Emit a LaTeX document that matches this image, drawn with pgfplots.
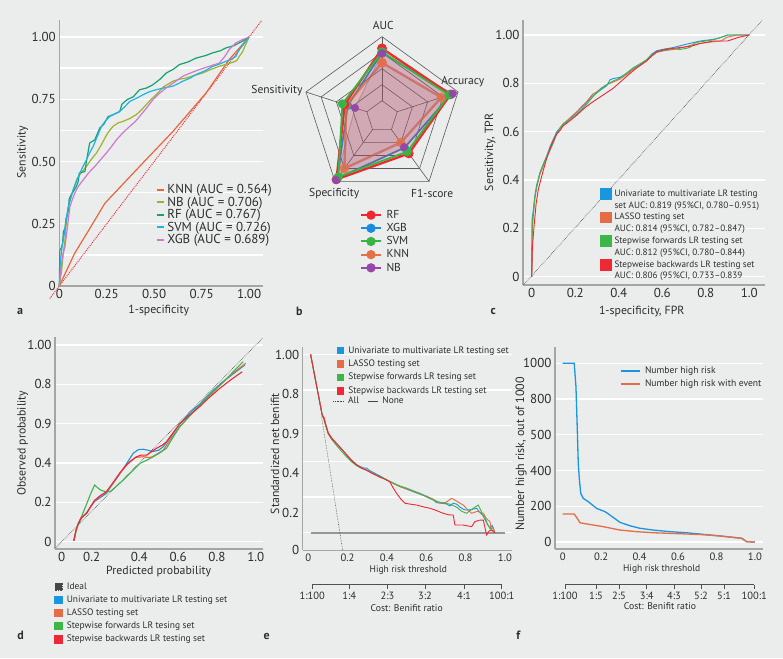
\documentclass[border=0pt]{standalone}
\usepackage{fontspec}
\setmainfont{PT Sans}
\usepackage{pgfplots}
\usepackage{pgfplotstable}
\pgfplotsset{compat=1.18}

\definecolor{bg}{RGB}{235,236,236}
\definecolor{axgray}{RGB}{165,165,165}
\definecolor{txt}{RGB}{45,45,45}
\definecolor{seccol}{RGB}{80,80,80}
\definecolor{ringgray}{RGB}{90,90,90}
% ROC of the five classifiers
\definecolor{cKNN}{RGB}{232,102,62}
\definecolor{cNB}{RGB}{160,178,40}
\definecolor{cRF}{RGB}{22,162,112}
\definecolor{cSVM}{RGB}{30,178,230}
\definecolor{cXGB}{RGB}{204,122,206}
\definecolor{cDiag}{RGB}{240,60,70}
% radar
\definecolor{rRF}{RGB}{240,40,45}
\definecolor{rXGB}{RGB}{25,140,220}
\definecolor{rSVM}{RGB}{55,180,65}
\definecolor{rKNN}{RGB}{228,112,72}
\definecolor{rNB}{RGB}{150,72,170}
% LR models
\definecolor{mUni}{RGB}{25,150,222}
\definecolor{mLasso}{RGB}{228,108,70}
\definecolor{mFwd}{RGB}{60,182,72}
\definecolor{mBwd}{RGB}{238,40,52}
\definecolor{ideal}{RGB}{70,70,70}
\definecolor{nonegray}{RGB}{150,150,150}

\newcommand{\fs}[1]{\fontsize{#1}{#1}\selectfont}

\pgfplotsset{
  panel/.style={
    scale only axis, anchor=south west, clip=false,
    axis x line*=bottom, axis y line*=left,
    axis line style={axgray, line width=1.3pt, -},
    every outer x axis line/.append style={-},
    every outer y axis line/.append style={-},
    major tick length=0pt, minor tick length=0pt,
    major grid style={white, line width=1.3pt},
    minor grid style={white, line width=1.3pt},
    tick label style={font=\fs{13}, text=txt},
    /pgf/number format/assume math mode=true,
    legend cell align=left,
  },
  costaxis/.style={
    scale only axis, anchor=south west, height=10pt,
    ymin=0, ymax=1, axis x line*=bottom, axis y line=none,
    axis line style={seccol, line width=0.7pt, -},
    every outer x axis line/.append style={-},
    tick align=outside, major tick length=4.3pt,
    tick style={seccol, line width=0.7pt},
    xticklabel style={font=\fs{10.5}, text=txt},
  },
}

% web outline: spoke angles and unit radius
\pgfplotstableread{
a r
90 1
18 1
-54 1
-126 1
162 1
90 1
}\pentagon

% radar values: AUC, Accuracy, F1-score, Specificity, Sensitivity (scaled radius)
\pgfplotstableread{
a r
90 0.854
18 0.90
-54 0.57
-126 0.97
162 0.49
90 0.854
}\radarRF
\pgfplotstableread{
a r
90 0.80
18 0.91
-54 0.48
-126 0.95
162 0.45
90 0.80
}\radarXGB
\pgfplotstableread{
a r
90 0.81
18 0.88
-54 0.54
-126 0.93
162 0.52
90 0.81
}\radarSVM
\pgfplotstableread{
a r
90 0.675
18 0.78
-54 0.40
-126 0.80
162 0.47
90 0.675
}\radarKNN
\pgfplotstableread{
a r
90 0.79
18 0.93
-54 0.47
-126 0.98
162 0.355
90 0.79
}\radarNB

\begin{document}
\begin{tikzpicture}[x=1pt,y=1pt]
\fill[bg] (0,0) rectangle (783,658);
\useasboundingbox (0,0) rectangle (783,658);

%% ---------------- a: ROC of the classifiers ----------------
\begin{axis}[panel, at={(59.3pt,372pt)}, width=203.7pt, height=266pt,
  xmin=0, xmax=1.073, ymin=0, ymax=1.068,
  xtick={0,0.25,0.5,0.75,1}, xticklabels={0,0.25,0.50,0.75,1.00},
  ytick={0,0.25,0.5,0.75,1}, yticklabels={0,0.25,0.50,0.75,1.00},
  minor ytick={0.125,0.375,0.625,0.875},
  ymajorgrids, yminorgrids,
  legend style={at={(0.475,0.39)}, anchor=north west, draw=none, fill=none,
    inner sep=0pt, outer sep=0pt, font=\fs{13}, text=txt, row sep=-2.2pt},
  legend image code/.code={\draw[#1, line width=1.8pt] (0pt,0pt) -- (7.5pt,0pt);},
]
\addplot[cDiag, densely dotted, line width=1pt, forget plot] coordinates {(-0.05,-0.05) (1.065,1.065)};
\addplot[cKNN, line width=1.2pt] coordinates {
(0,0) (0.08,0.13) (0.16,0.23) (0.24,0.332) (0.423,0.48) (0.598,0.62) (0.773,0.775) (0.895,0.909) (1,1)};
\addplot[cNB, line width=1.2pt] coordinates {
(0,0) (0.012,0.06) (0.021,0.131) (0.03,0.185) (0.035,0.239) (0.045,0.3) (0.056,0.346) (0.075,0.39)
(0.091,0.426) (0.115,0.455) (0.143,0.48) (0.17,0.51) (0.196,0.534) (0.22,0.565) (0.24,0.594)
(0.26,0.62) (0.283,0.641) (0.31,0.655) (0.336,0.661) (0.37,0.672) (0.406,0.688) (0.43,0.705)
(0.458,0.728) (0.485,0.75) (0.51,0.768) (0.55,0.8) (0.598,0.822) (0.63,0.83) (0.668,0.835)
(0.71,0.845) (0.755,0.855) (0.8,0.87) (0.843,0.882) (0.88,0.89) (0.913,0.898) (0.935,0.905)
(0.948,0.922) (0.965,0.94) (0.974,0.956) (1,1)};
\addplot[cRF, line width=1.2pt] coordinates {
(0,0) (0.003,0.145) (0.01,0.15) (0.017,0.17) (0.022,0.22) (0.03,0.23) (0.035,0.27) (0.047,0.30)
(0.052,0.35) (0.065,0.37) (0.075,0.38) (0.09,0.40) (0.1,0.42) (0.105,0.453) (0.135,0.46)
(0.145,0.51) (0.152,0.54) (0.16,0.574) (0.187,0.587) (0.2,0.61) (0.213,0.634) (0.235,0.65)
(0.257,0.68) (0.29,0.69) (0.318,0.70) (0.33,0.73) (0.357,0.748) (0.39,0.76) (0.423,0.788)
(0.46,0.795) (0.493,0.808) (0.53,0.83) (0.563,0.855) (0.6,0.87) (0.633,0.889) (0.68,0.9)
(0.72,0.915) (0.77,0.925) (0.808,0.936) (0.85,0.945) (0.878,0.956) (0.92,0.965) (0.948,0.976)
(0.97,0.985) (1,1)};
\addplot[cSVM, line width=1.2pt] coordinates {
(0,0) (0.007,0.105) (0.015,0.16) (0.024,0.198) (0.035,0.26) (0.047,0.319) (0.06,0.35) (0.073,0.386)
(0.09,0.42) (0.108,0.453) (0.125,0.48) (0.143,0.507) (0.16,0.535) (0.178,0.56) (0.2,0.6)
(0.222,0.641) (0.245,0.665) (0.266,0.681) (0.29,0.69) (0.318,0.701) (0.345,0.72) (0.371,0.741)
(0.41,0.755) (0.441,0.768) (0.475,0.78) (0.51,0.788) (0.55,0.795) (0.598,0.802) (0.625,0.812)
(0.65,0.822) (0.69,0.835) (0.72,0.849) (0.77,0.865) (0.808,0.882) (0.84,0.89) (0.878,0.902)
(0.905,0.91) (0.93,0.922) (0.948,0.949) (0.97,0.97) (1,1)};
\addplot[cXGB, line width=1.2pt] coordinates {
(0,0) (0.006,0.05) (0.012,0.091) (0.02,0.13) (0.03,0.158) (0.04,0.22) (0.056,0.319) (0.07,0.35)
(0.082,0.373) (0.1,0.4) (0.126,0.426) (0.155,0.455) (0.187,0.48) (0.215,0.505) (0.248,0.534)
(0.275,0.56) (0.301,0.587) (0.335,0.615) (0.371,0.641) (0.4,0.66) (0.423,0.681) (0.46,0.715)
(0.493,0.748) (0.53,0.775) (0.563,0.795) (0.61,0.82) (0.65,0.842) (0.7,0.858) (0.738,0.869)
(0.79,0.882) (0.843,0.895) (0.87,0.92) (0.895,0.949) (0.915,0.965) (0.93,0.976) (0.965,0.989) (1,1)};
\legend{KNN (AUC = 0.564), NB (AUC = 0.706), RF (AUC = 0.767), SVM (AUC = 0.726), XGB (AUC = 0.689)}
\end{axis}

%% ---------------- b: radar ----------------
\begin{axis}[scale only axis, anchor=center, at={(382pt,541.3pt)}, width=160pt, height=160pt,
  xmin=-1, xmax=1, ymin=-1, ymax=1, hide axis, clip=false,
  legend style={at={(0.3625,-0.0725)}, anchor=north west, draw=none, fill=none,
    inner sep=0pt, outer sep=0pt, font=\fs{11.5}, text=txt, row sep=-0.5pt,
    /tikz/every odd column/.append style={column sep=2.5pt}},
  legend cell align=left,
  legend image code/.code={\draw[mark repeat=2, mark phase=2, #1] plot coordinates {(0pt,0pt) (10pt,0pt) (20pt,0pt)};},
]
\addlegendimage{rRF, line width=2pt, mark=*, mark size=3.6pt}
\addlegendentry{RF}
\addlegendimage{rXGB, line width=2pt, mark=*, mark size=3.6pt}
\addlegendentry{XGB}
\addlegendimage{rSVM, line width=2pt, mark=*, mark size=3.6pt}
\addlegendentry{SVM}
\addlegendimage{rKNN, line width=2pt, mark=*, mark size=3.6pt}
\addlegendentry{KNN}
\addlegendimage{rNB, line width=2pt, mark=*, mark size=3.6pt}
\addlegendentry{NB}
% web
\pgfplotsinvokeforeach{0.2,0.4,0.6,0.8,1}{
  \addplot[forget plot, ringgray, line width=0.6pt] table[x expr={#1*\thisrow{r}*cos(\thisrow{a})}, y expr={#1*\thisrow{r}*sin(\thisrow{a})}] {\pentagon};
}
\addplot[forget plot, ringgray, line width=0.6pt] coordinates {(0,0.2) (0,1)};
\addplot[forget plot, ringgray, line width=0.6pt] coordinates {(0.190,0.062) (0.951,0.309)};
\addplot[forget plot, ringgray, line width=0.6pt] coordinates {(0.118,-0.162) (0.588,-0.809)};
\addplot[forget plot, ringgray, line width=0.6pt] coordinates {(-0.118,-0.162) (-0.588,-0.809)};
\addplot[forget plot, ringgray, line width=0.6pt] coordinates {(-0.190,0.062) (-0.951,0.309)};
% faint outlines underneath the fills
\addplot[forget plot, rXGB, line width=1.6pt, mark=*, mark size=3.6pt] table[x expr={\thisrow{r}*cos(\thisrow{a})}, y expr={\thisrow{r}*sin(\thisrow{a})}] {\radarXGB};
\addplot[forget plot, rKNN, line width=2.4pt, opacity=0.75, mark=*, mark size=3.6pt] table[x expr={\thisrow{r}*cos(\thisrow{a})}, y expr={\thisrow{r}*sin(\thisrow{a})}] {\radarKNN};
\addplot[forget plot, rNB, line width=1pt, opacity=0.4] table[x expr={\thisrow{r}*cos(\thisrow{a})}, y expr={\thisrow{r}*sin(\thisrow{a})}] {\radarNB};
% fills
\addplot[forget plot, draw=none, fill=rRF, fill opacity=0.18] table[x expr={\thisrow{r}*cos(\thisrow{a})}, y expr={\thisrow{r}*sin(\thisrow{a})}] {\radarRF};
\addplot[forget plot, draw=none, fill=rXGB, fill opacity=0.05] table[x expr={\thisrow{r}*cos(\thisrow{a})}, y expr={\thisrow{r}*sin(\thisrow{a})}] {\radarXGB};
\addplot[forget plot, draw=none, fill=rSVM, fill opacity=0.04] table[x expr={\thisrow{r}*cos(\thisrow{a})}, y expr={\thisrow{r}*sin(\thisrow{a})}] {\radarSVM};
\addplot[forget plot, draw=none, fill=rKNN, fill opacity=0.1] table[x expr={\thisrow{r}*cos(\thisrow{a})}, y expr={\thisrow{r}*sin(\thisrow{a})}] {\radarKNN};
\addplot[forget plot, draw=none, fill=rNB, fill opacity=0.14] table[x expr={\thisrow{r}*cos(\thisrow{a})}, y expr={\thisrow{r}*sin(\thisrow{a})}] {\radarNB};
% outlines on top
\addplot[forget plot, rRF, line width=2.2pt, mark=*, mark size=3.6pt] table[x expr={\thisrow{r}*cos(\thisrow{a})}, y expr={\thisrow{r}*sin(\thisrow{a})}] {\radarRF};
\addplot[forget plot, rSVM, line width=1.8pt, mark=*, mark size=3.6pt] table[x expr={\thisrow{r}*cos(\thisrow{a})}, y expr={\thisrow{r}*sin(\thisrow{a})}] {\radarSVM};
\addplot[forget plot, rNB, only marks, mark=*, mark size=3.8pt] table[x expr={\thisrow{r}*cos(\thisrow{a})}, y expr={\thisrow{r}*sin(\thisrow{a})}] {\radarNB};
\end{axis}

%% ---------------- c: ROC of the LR models ----------------
\begin{axis}[panel, at={(523pt,373pt)}, width=242pt, height=265pt,
  xmin=-0.04, xmax=1.072, ymin=-0.034, ymax=1.062,
  xtick={0,0.2,0.4,0.6,0.8,1}, xticklabels={0,0.2,0.4,0.6,0.8,1.0},
  ytick={0,0.2,0.4,0.6,0.8,1}, yticklabels={0,0.2,0.4,0.6,0.8,1.00},
  ymajorgrids,
  legend style={at={(0.318,0.367)}, anchor=north west, draw=none, fill=none,
    inner sep=0pt, outer sep=0pt, font=\fs{9.2}, text=txt, row sep=-0.25pt,
    /tikz/every odd column/.append style={column sep=1.5pt}},
  legend image code/.code={\fill[#1] (0pt,-5.3pt) rectangle (10.7pt,5.3pt);},
]
\addplot[ideal, densely dotted, line width=0.6pt, forget plot] coordinates {(-0.038,-0.034) (1.06,1.062)};
\addplot[forget plot, mUni, line width=0.9pt] coordinates {
(0,0)(0.002,0.24)(0.008,0.28)(0.015,0.34)(0.023,0.38)(0.038,0.43)(0.055,0.47)(0.069,0.5)(0.085,0.54)
(0.1,0.57)(0.115,0.6)(0.13,0.615)(0.145,0.628)(0.161,0.64)(0.185,0.66)(0.207,0.68)(0.23,0.70)
(0.253,0.72)(0.275,0.745)(0.299,0.76)(0.32,0.775)(0.345,0.79)(0.36,0.815)(0.375,0.82)(0.406,0.825)
(0.435,0.84)(0.467,0.86)(0.5,0.878)(0.528,0.895)(0.55,0.92)(0.574,0.935)(0.61,0.942)(0.651,0.948)
(0.68,0.955)(0.712,0.962)(0.74,0.968)(0.774,0.975)(0.835,0.982)(0.87,0.99)(0.9,1.0)(1,1)};
\addplot[forget plot, mLasso, line width=0.9pt] coordinates {
(0,0)(0.003,0.2)(0.008,0.26)(0.015,0.33)(0.023,0.37)(0.038,0.425)(0.055,0.462)(0.069,0.495)
(0.085,0.532)(0.1,0.565)(0.115,0.592)(0.13,0.612)(0.145,0.632)(0.161,0.645)(0.185,0.665)
(0.207,0.682)(0.23,0.705)(0.253,0.725)(0.28,0.755)(0.299,0.765)(0.32,0.78)(0.345,0.795)
(0.375,0.805)(0.406,0.818)(0.435,0.836)(0.467,0.858)(0.5,0.876)(0.528,0.893)(0.55,0.912)
(0.574,0.928)(0.61,0.935)(0.651,0.94)(0.68,0.945)(0.712,0.952)(0.74,0.96)(0.774,0.965)
(0.835,0.972)(0.87,0.975)(0.896,0.99)(0.942,1.0)(1,1)};
\addplot[forget plot, mFwd, line width=0.9pt] coordinates {
(0,0)(0.002,0.22)(0.008,0.27)(0.015,0.33)(0.023,0.375)(0.038,0.43)(0.055,0.468)(0.069,0.495)
(0.085,0.525)(0.1,0.555)(0.115,0.592)(0.13,0.616)(0.145,0.634)(0.161,0.642)(0.185,0.658)
(0.207,0.672)(0.23,0.692)(0.253,0.714)(0.275,0.738)(0.299,0.762)(0.32,0.78)(0.345,0.795)
(0.375,0.81)(0.406,0.822)(0.435,0.842)(0.467,0.865)(0.5,0.882)(0.528,0.898)(0.55,0.917)
(0.574,0.93)(0.61,0.938)(0.651,0.943)(0.68,0.94)(0.712,0.945)(0.73,0.95)(0.75,0.968)
(0.774,0.972)(0.835,0.98)(0.87,0.99)(0.9,1.0)(1,1)};
\addplot[forget plot, mBwd, line width=0.9pt] coordinates {
(0,0)(0.003,0.12)(0.01,0.2)(0.02,0.3)(0.03,0.36)(0.05,0.43)(0.069,0.49)(0.085,0.53)(0.1,0.565)
(0.115,0.59)(0.13,0.605)(0.145,0.625)(0.161,0.635)(0.185,0.652)(0.207,0.668)(0.23,0.688)
(0.253,0.705)(0.275,0.72)(0.3,0.735)(0.325,0.75)(0.35,0.765)(0.375,0.78)(0.4,0.8)(0.425,0.82)
(0.45,0.84)(0.48,0.862)(0.5,0.875)(0.528,0.893)(0.55,0.912)(0.574,0.93)(0.61,0.94)(0.651,0.945)
(0.7,0.95)(0.74,0.955)(0.774,0.965)(0.835,0.975)(0.9,0.975)(0.95,0.99)(1,1)};
\addlegendimage{mUni}\addlegendentry{Univariate to multivariate LR testing}
\addlegendimage{empty legend}\addlegendentry{set AUC: 0.819 (95\%CI, 0.780–0.951)}
\addlegendimage{mLasso}\addlegendentry{LASSO testing set}
\addlegendimage{empty legend}\addlegendentry{AUC: 0.814 (95\%CI, 0.782–0.847)}
\addlegendimage{mFwd}\addlegendentry{Stepwise forwards LR testing set}
\addlegendimage{empty legend}\addlegendentry{AUC: 0.812 (95\%CI, 0.780–0.844)}
\addlegendimage{mBwd}\addlegendentry{Stepweise backwards LR testing set}
\addlegendimage{empty legend}\addlegendentry{AUC: 0.806 (95\%CI, 0.733–0.839}
\end{axis}

%% ---------------- d: calibration ----------------
\begin{axis}[panel, at={(55pt,109pt)}, width=208pt, height=212.3pt,
  xmin=-0.034, xmax=1.037, ymin=-0.037, ymax=1.042,
  xtick={0,0.155,0.4,0.6,0.8,1}, xticklabels={0,0.2,0.4,0.6,0.8,1.0},
  ytick={0,0.2,0.4,0.6,0.8,1}, yticklabels={0,0.2,0.4,0.9,0.8,1.00},
  ymajorgrids,
  legend style={at={(-0.003,-0.149)}, anchor=north west, draw=none, fill=none,
    inner sep=0pt, outer sep=0pt, font=\fs{9.4}, text=txt, row sep=1.0pt,
    /tikz/every odd column/.append style={column sep=2pt}},
  legend image code/.code={\fill[#1] (0pt,-3.65pt) rectangle (7.3pt,3.65pt);},
]
\addplot[ideal, densely dotted, line width=0.6pt] coordinates {(-0.03,-0.03) (1.035,1.035)};
\addplot[mUni, line width=1.1pt] coordinates {
(0.063,0.005)(0.075,0.06)(0.09,0.1)(0.11,0.13)(0.13,0.15)(0.17,0.205)(0.2,0.225)(0.23,0.245)
(0.26,0.29)(0.3,0.345)(0.33,0.39)(0.369,0.45)(0.395,0.468)(0.42,0.47)(0.445,0.465)(0.47,0.458)
(0.5,0.465)(0.523,0.483)(0.56,0.53)(0.609,0.6)(0.66,0.655)(0.712,0.7)(0.76,0.75)(0.82,0.805)
(0.88,0.85)(0.943,0.898)};
\addplot[mLasso, line width=1.1pt] coordinates {
(0.063,0.005)(0.075,0.06)(0.086,0.093)(0.1,0.12)(0.129,0.145)(0.17,0.21)(0.2,0.232)(0.23,0.252)
(0.26,0.29)(0.3,0.348)(0.34,0.395)(0.38,0.428)(0.42,0.432)(0.445,0.428)(0.463,0.43)(0.49,0.445)
(0.523,0.465)(0.56,0.52)(0.609,0.585)(0.66,0.64)(0.712,0.69)(0.76,0.74)(0.82,0.8)(0.88,0.855)
(0.948,0.907)};
\addplot[mFwd, line width=1.1pt] coordinates {
(0.063,0.005)(0.075,0.06)(0.094,0.108)(0.12,0.17)(0.15,0.245)(0.17,0.288)(0.185,0.275)(0.2,0.263)
(0.22,0.256)(0.249,0.254)(0.28,0.28)(0.317,0.313)(0.36,0.355)(0.403,0.398)(0.44,0.415)
(0.472,0.432)(0.5,0.448)(0.54,0.475)(0.57,0.525)(0.609,0.585)(0.66,0.64)(0.712,0.695)
(0.76,0.745)(0.82,0.8)(0.88,0.86)(0.935,0.915)};
\addplot[mBwd, line width=1.1pt] coordinates {
(0.063,0.005)(0.075,0.06)(0.086,0.093)(0.1,0.12)(0.129,0.144)(0.15,0.18)(0.17,0.21)(0.2,0.235)
(0.23,0.254)(0.25,0.28)(0.274,0.313)(0.3,0.35)(0.326,0.381)(0.355,0.41)(0.386,0.432)(0.41,0.44)
(0.437,0.44)(0.46,0.455)(0.489,0.475)(0.52,0.492)(0.54,0.508)(0.575,0.555)(0.609,0.6)
(0.66,0.645)(0.71,0.686)(0.76,0.733)(0.815,0.78)(0.87,0.822)(0.93,0.864)};
\legend{Ideal, Univariate to multivariate LR testing set, LASSO testing set, Stepwise forwards LR tesing set, Stepwise backwards LR testing set}
\end{axis}

%% ---------------- e: decision curve ----------------
\begin{axis}[panel, at={(302.7pt,107.8pt)}, width=209.3pt, height=203.6pt,
  xmin=-0.028, xmax=1.036, ymin=-0.098, ymax=1.043,
  xtick={0,0.2,0.4,0.6,0.8,1}, xticklabels={0,0.2,0.4,0.6,0.8,1.0},
  xticklabel style={font=\fs{10.7}},
  ytick={-0.097,0.112,0.333,0.556,0.778,0.996}, yticklabels={0,0.2,0.4,0.9,0.8,1.00},
  extra y ticks={0,0.2,0.4,0.6,0.8,1}, extra y tick labels={},
  extra y tick style={ymajorgrids=true},
  legend style={at={(0.1624,1.011)}, anchor=north west, draw=none, fill=none,
    inner sep=0pt, outer sep=0pt, font=\fs{9.4}, text=txt, row sep=1.3pt,
    /tikz/every odd column/.append style={column sep=2pt}},
  legend image code/.code={\fill[#1] (0pt,-3.35pt) rectangle (6.7pt,3.35pt);},
]
\addplot[forget plot, nonegray, line width=1.8pt] coordinates {(0.012,0) (1.0,0)};
\addplot[forget plot, ideal, densely dotted, line width=0.6pt] coordinates {(0.068,0.65) (0.175,-0.098)};
\addplot[mUni, line width=0.9pt] coordinates {
(0.012,1.0)(0.071,0.66)(0.08,0.64)(0.09,0.6)(0.102,0.557)(0.12,0.53)(0.136,0.51)(0.16,0.482)
(0.195,0.438)(0.22,0.408)(0.246,0.382)(0.27,0.368)(0.285,0.362)(0.297,0.362)(0.31,0.35)
(0.33,0.338)(0.365,0.318)(0.39,0.302)(0.415,0.288)(0.44,0.274)(0.466,0.26)(0.5,0.245)
(0.534,0.23)(0.57,0.215)(0.602,0.202)(0.63,0.19)(0.653,0.168)(0.68,0.165)(0.704,0.161)
(0.72,0.15)(0.737,0.165)(0.755,0.16)(0.771,0.144)(0.79,0.13)(0.805,0.127)(0.83,0.13)
(0.856,0.137)(0.875,0.11)(0.898,0.09)(0.91,0.05)(0.924,0.025)(0.935,0.04)(0.949,0.0)};
\addplot[mLasso, line width=0.9pt] coordinates {
(0.012,1.0)(0.071,0.66)(0.082,0.645)(0.09,0.605)(0.102,0.56)(0.12,0.53)(0.136,0.51)(0.16,0.48)
(0.195,0.436)(0.22,0.405)(0.246,0.38)(0.27,0.364)(0.297,0.35)(0.33,0.332)(0.365,0.31)
(0.39,0.302)(0.415,0.286)(0.44,0.272)(0.466,0.258)(0.5,0.245)(0.534,0.232)(0.57,0.218)
(0.602,0.205)(0.64,0.185)(0.67,0.165)(0.7,0.17)(0.729,0.193)(0.75,0.18)(0.788,0.155)
(0.81,0.13)(0.831,0.109)(0.86,0.12)(0.89,0.109)(0.905,0.08)(0.924,0.062)(0.93,0.02)
(0.94,0.03)(0.949,0.0)};
\addplot[mFwd, line width=0.9pt] coordinates {
(0.012,1.0)(0.071,0.66)(0.08,0.635)(0.09,0.595)(0.102,0.552)(0.12,0.522)(0.136,0.5)(0.16,0.468)
(0.195,0.425)(0.22,0.398)(0.246,0.375)(0.27,0.362)(0.297,0.35)(0.33,0.33)(0.365,0.314)
(0.39,0.3)(0.415,0.287)(0.44,0.274)(0.466,0.262)(0.5,0.25)(0.534,0.235)(0.57,0.22)(0.602,0.2)
(0.64,0.18)(0.68,0.168)(0.72,0.16)(0.754,0.144)(0.78,0.12)(0.805,0.109)(0.83,0.13)
(0.864,0.155)(0.88,0.12)(0.89,0.09)(0.91,0.05)(0.924,0.025)(0.949,0.0)};
\addplot[mBwd, line width=0.9pt] coordinates {
(0.012,1.0)(0.071,0.66)(0.08,0.64)(0.09,0.6)(0.102,0.557)(0.12,0.528)(0.136,0.508)(0.16,0.48)
(0.195,0.436)(0.22,0.405)(0.246,0.38)(0.27,0.362)(0.297,0.35)(0.33,0.33)(0.365,0.312)
(0.39,0.3)(0.415,0.285)(0.43,0.255)(0.449,0.221)(0.47,0.19)(0.492,0.165)(0.52,0.16)
(0.551,0.155)(0.585,0.145)(0.619,0.137)(0.65,0.125)(0.686,0.109)(0.715,0.1)(0.737,0.099)
(0.746,0.043)(0.788,0.043)(0.831,0.034)(0.847,0.062)(0.87,0.07)(0.89,0.071)(0.907,-0.013)
(0.92,0.01)(0.932,0.015)(0.949,0.0)};
\legend{Univariate to multivariate LR testing set, LASSO testing set, Stepwise forwards LR tesing set, Stepwise backwards LR testing set}
\end{axis}
% reference curves key
\begin{axis}[scale only axis, anchor=south west, at={(302.7pt,107.8pt)}, width=209.3pt, height=203.6pt,
  xmin=-0.028, xmax=1.036, ymin=-0.098, ymax=1.043, hide axis,
  legend columns=2,
  legend style={at={(0.145,0.763)}, anchor=north west, draw=none, fill=none,
    inner sep=0pt, outer sep=0pt, font=\fs{9.4}, text=txt,
    /tikz/every odd column/.append style={column sep=2.5pt},
    /tikz/every even column/.append style={column sep=6pt}},
  legend image code/.code={\draw[#1] (0pt,0pt) -- (10pt,0pt);},
]
\addlegendimage{ideal, densely dotted, line width=0.6pt}\addlegendentry{All}
\addlegendimage{ideal, line width=0.8pt}\addlegendentry{None}
\end{axis}
\begin{axis}[costaxis, at={(312.3pt,73.5pt)}, width=189.4pt,
  xmin=0.02, xmax=0.983,
  xtick={0.02,0.208,0.402,0.593,0.791,0.983},
  xticklabels={1:100,1:4,2:3,3:2,4:1,100:1}]
\end{axis}

%% ---------------- f: clinical impact ----------------
\begin{axis}[panel, at={(555pt,109pt)}, width=208pt, height=202.3pt,
  xmin=-0.04, xmax=1.042, ymin=-39, ymax=1093,
  xtick={0,0.2,0.4,0.6,0.8,1}, xticklabels={0,0.2,0.4,0.6,0.8,1.0},
  xticklabel style={font=\fs{10.7}},
  ytick={0,200,400,600,800,1000}, yticklabels={0,200,400,500,800,1000},
  ymajorgrids,
  legend style={at={(0.3125,0.91)}, anchor=north west, draw=none, fill=none,
    inner sep=0pt, outer sep=0pt, font=\fs{9.6}, text=txt, row sep=0.5pt,
    /tikz/every odd column/.append style={column sep=2.5pt}},
  legend image code/.code={\draw[#1, line width=1.5pt] (0pt,0pt) -- (19pt,0pt);},
]
\addplot[mUni, line width=1.3pt] coordinates {
(0,1000)(0.06,1000)(0.069,869)(0.076,627)(0.081,440)(0.087,347)(0.094,272)(0.107,244)
(0.133,226)(0.177,188)(0.22,170)(0.246,151)(0.298,110)(0.35,91)(0.402,77)(0.471,67)
(0.558,58)(0.644,52)(0.731,43)(0.818,34)(0.887,26)(0.931,21)(0.957,2)(1.0,0)};
\addplot[mLasso, line width=1.3pt] coordinates {
(0,157)(0.06,157)(0.076,132)(0.09,108)(0.125,101)(0.211,86)(0.298,67)(0.385,58)(0.471,52)
(0.644,45)(0.731,41)(0.818,34)(0.887,26)(0.931,21)(0.957,2)(1.0,0)};
\legend{Number high risk, Number high risk with event}
\end{axis}
\begin{axis}[costaxis, at={(565pt,73.5pt)}, width=189.3pt,
  xmin=0.012, xmax=0.997,
  xtick={0.012,0.173,0.293,0.437,0.579,0.72,0.839,0.997},
  xticklabels={1:100,1:5,2:5,3:4,4:3,5:2,5:1,100:1}]
\end{axis}

%% ---------------- titles and panel letters ----------------
\begin{scope}[every node/.style={text=txt, inner sep=0pt}]
\node[font=\fs{11.8}] at (158.7,347.3) {1-specificity};
\node[font=\fs{11.8}, rotate=90] at (22.7,505.7) {Sensitivity};
\node[font=\fs{11.8}] at (641.7,346.3) {1-specificity, FPR};
\node[font=\fs{11.8}, rotate=90] at (490,505.7) {Sensitivity, TPR};
\node[font=\fs{11.8}] at (158.7,86.3) {Predicted probability};
\node[font=\fs{11.8}, rotate=90] at (22.7,214.7) {Observed probability};
\node[font=\fs{9.5}] at (408.3,88) {High risk threshold};
\node[font=\fs{11.8}, rotate=90] at (275,204.3) {Standardized net benifit};
\node[font=\fs{9.7}] at (406.7,49.7) {Cost: Benifit ratio};
\node[font=\fs{9.5}] at (661.7,88.7) {High risk threshold};
\node[font=\fs{12}, rotate=90] at (521,204) {Number high risk, out of 1000};
\node[font=\fs{9.7}] at (660,52) {Cost: Benifit ratio};
\node[font=\fs{11.5}] at (383.3,633) {AUC};
\node[font=\fs{11.5}] at (462.8,576.3) {Accuracy};
\node[font=\fs{11.5}, anchor=east] at (302.7,567.3) {Sensitivity};
\node[font=\fs{11.5}] at (334.2,464.7) {Specificity};
\node[font=\fs{11.5}] at (432.2,464.7) {F1-score};
\node[font=\bfseries\fs{12}] at (20,346.3) {a};
\node[font=\bfseries\fs{12}] at (299.3,346.3) {b};
\node[font=\bfseries\fs{12}] at (493.3,346.3) {c};
\node[font=\bfseries\fs{12}] at (20.7,23) {d};
\node[font=\bfseries\fs{12}] at (266.7,21.3) {e};
\node[font=\bfseries\fs{12}] at (518.3,23) {f};
\end{scope}
\end{tikzpicture}
\end{document}
